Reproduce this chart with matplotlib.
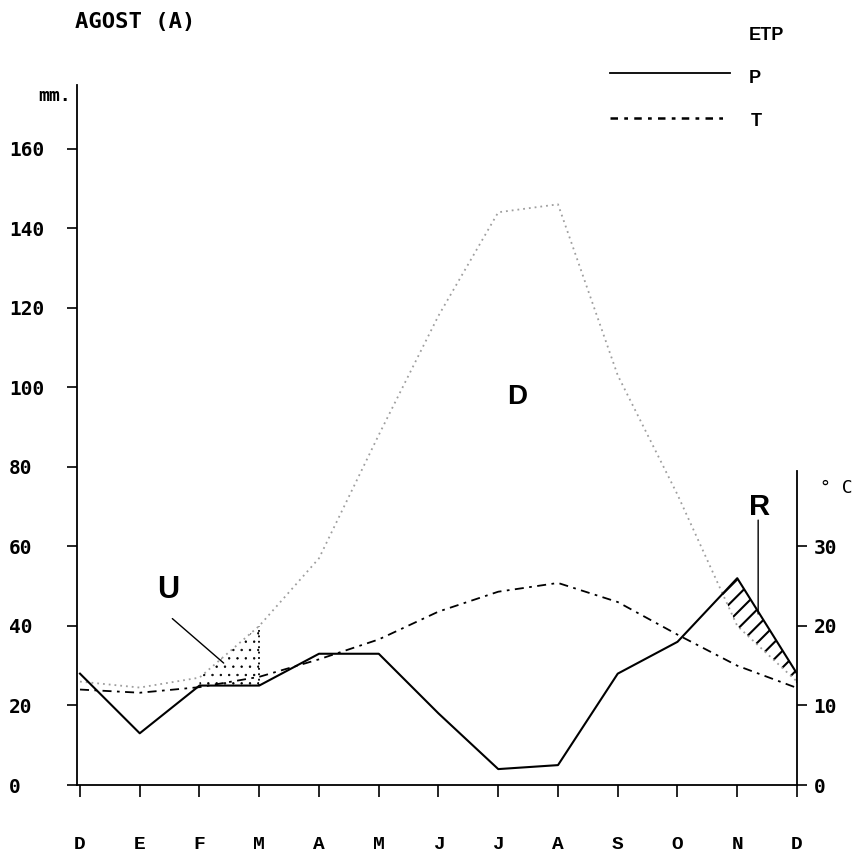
import matplotlib
matplotlib.use("Agg")
import matplotlib.pyplot as plt
from matplotlib.lines import Line2D

# ── data ────────────────────────────────────────────────────────────────────
months = ["D", "E", "F", "M", "A", "M", "J", "J", "A", "S", "O", "N", "D"]
xpos = list(range(len(months)))

# precipitation, mm
P = [28, 13, 25, 25, 33, 33, 18, 4, 5, 28, 36, 52, 28]
# potential evapotranspiration, mm
ETP = [26, 24.5, 27, 40, 57, 88, 118, 144, 146, 103, 73, 40, 26]
# temperature, °C (right axis, 1 °C = 2 mm)
T = [12, 11.6, 12.3, 13.6, 15.8, 18.3, 21.8, 24.3, 25.4, 23, 18.9, 15, 12.2]

mm_ticks = [0, 20, 40, 60, 80, 100, 120, 140, 160]
c_ticks = [0, 10, 20, 30]

MONO = "DejaVu Sans Mono"
COUR = "Liberation Mono"
SANS = "Liberation Sans"

fig = plt.figure(figsize=(8.56, 8.55), dpi=100, facecolor="white")
ax = fig.add_axes([77 / 856, 70 / 855, 720 / 856, 700 / 855])
ax.set_xlim(-0.05, 12)
ax.set_ylim(0, 176)

# ── curves ──────────────────────────────────────────────────────────────────
ax.plot(xpos, ETP, color="0.62", linestyle=(0, (1, 2.2)), linewidth=1.3)
ax.plot(xpos, P, color="black", linewidth=1.5)
ax.plot(xpos, [2 * t for t in T], color="black", linewidth=1.3,
        linestyle=(0, (5, 3, 1.5, 3)))

# U: use of reserves (F -> M), stippled
with plt.rc_context({"hatch.linewidth": 0.5}):
    ax.fill_between(xpos[2:4], P[2:4], ETP[2:4], facecolor="none",
                    edgecolor="black", hatch="..", linewidth=0)
ax.plot([3, 3], [P[3], ETP[3]], color="black", linestyle=(0, (1, 2)), linewidth=1.3)

# R: recharge (P above ETP, O -> D), hatched
with plt.rc_context({"hatch.linewidth": 1.5}):
    ax.fill_between(xpos[10:], P[10:], ETP[10:],
                    where=[p > e for p, e in zip(P[10:], ETP[10:])],
                    interpolate=True, facecolor="none", edgecolor="black",
                    hatch="//", linewidth=0)
ax.plot([12, 12], [ETP[12], P[12]], color="black", linewidth=1.5)

# ── labels inside the plot ──────────────────────────────────────────────────
ax.text(1.47, 49, "U", fontsize=22, fontweight="bold", family=SANS,
        ha="center", va="center")
ax.annotate("", xy=(2.44, 30.2), xytext=(1.51, 42.3),
            arrowprops=dict(arrowstyle="-", color="black", lw=1.0))
ax.text(7.31, 97.5, "D", fontsize=20, fontweight="bold", family=SANS,
        ha="center", va="center")
ax.text(11.38, 70, "R", fontsize=21, fontweight="bold", family=SANS,
        ha="center", va="center")
ax.annotate("", xy=(11.35, 42.3), xytext=(11.35, 67.3),
            arrowprops=dict(arrowstyle="-", color="black", lw=1.0))

# ── axes styling ────────────────────────────────────────────────────────────
for s in ["top", "right"]:
    ax.spines[s].set_visible(False)
ax.spines["left"].set_linewidth(1.3)
ax.spines["bottom"].set_linewidth(1.3)

ax.set_xticks(xpos)
ax.set_xticklabels(months, family=COUR, fontweight="bold", fontsize=14)
ax.tick_params(axis="x", direction="out", length=8.5, width=1.2, pad=28)

ax.set_yticks(mm_ticks)
ax.set_yticklabels([str(v) for v in mm_ticks], family=MONO,
                   fontweight="bold", fontsize=14, ha="left")
ax.tick_params(axis="y", direction="out", length=7, width=1.2, pad=42)

ax2 = ax.twinx()
ax2.set_ylim(0, 88)
for s in ["top", "left", "bottom"]:
    ax2.spines[s].set_visible(False)
ax2.spines["right"].set_bounds(0, 39.5)
ax2.spines["right"].set_linewidth(1.3)
ax2.set_yticks(c_ticks)
ax2.set_yticklabels([str(v) for v in c_ticks], family=MONO,
                    fontweight="bold", fontsize=14)
ax2.tick_params(axis="y", direction="out", length=7, width=1.2, pad=5)

# ── figure texts ────────────────────────────────────────────────────────────
fig.text(75 / 856, 1 - 22 / 855, "AGOST (A)", family=MONO, fontweight="bold",
         fontsize=16, ha="left", va="center")
fig.text(71 / 856, 1 - 96 / 855, "mm.", family=MONO, fontweight="bold",
         fontsize=13, ha="right", va="center")
fig.text(820 / 856, 1 - 488 / 855, "° C", family=MONO, fontsize=13,
         ha="left", va="center")

# legend
fig.text(749 / 856, 1 - 35 / 855, "ETP", family=SANS, fontweight="bold",
         fontsize=13, ha="left", va="center")
fig.text(749 / 856, 1 - 78 / 855, "P", family=SANS, fontweight="bold",
         fontsize=13, ha="left", va="center")
fig.text(751 / 856, 1 - 122 / 855, "T", family=SANS, fontweight="bold",
         fontsize=13, ha="left", va="center")
fig.add_artist(Line2D([610 / 856, 730 / 856], [1 - 73 / 855, 1 - 73 / 855],
                      transform=fig.transFigure, color="black", linewidth=1.3))
fig.add_artist(Line2D([610 / 856, 725 / 856], [1 - 118 / 855, 1 - 118 / 855],
                      transform=fig.transFigure, color="black", linewidth=1.8,
                      linestyle=(0, (3, 2.5, 1.5, 2.5))))

fig.savefig("out.png", dpi=100, facecolor="white")
